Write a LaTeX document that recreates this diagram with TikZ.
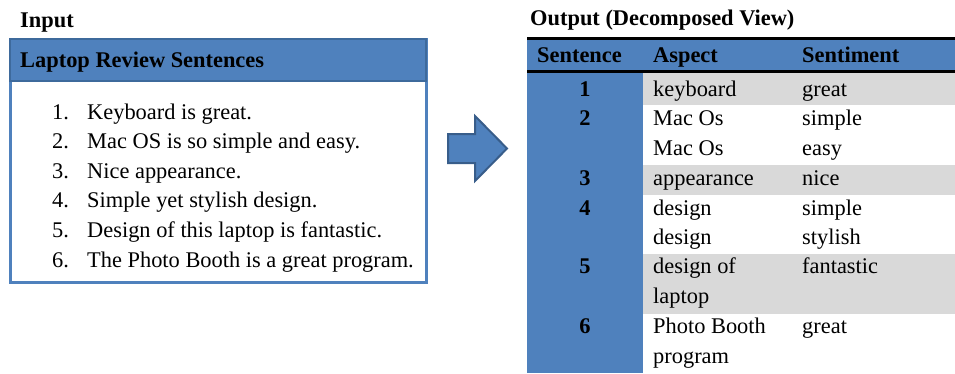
\documentclass[tikz,border=0pt]{standalone}
\usepackage{fontspec}
\setmainfont{Liberation Serif}
\usetikzlibrary{positioning}
\definecolor{hdrblue}{HTML}{4F81BD}
\definecolor{edgeblue}{HTML}{3E6A9C}
\definecolor{arrowedge}{HTML}{385D8A}
\definecolor{rowgray}{HTML}{D9D9D9}
\tikzset{
  txt/.style={anchor=base west, inner sep=0pt, font=\fontsize{22.4}{26}\selectfont},
  btxt/.style={txt, font=\fontsize{22.4}{26}\selectfont\bfseries},
  numtxt/.style={anchor=base, inner sep=0pt, font=\fontsize{22.4}{26}\selectfont\bfseries},
}

\begin{document}
\begin{tikzpicture}[x=1pt, y=-1pt]
    \useasboundingbox (0,0) rectangle (955,373);

    % 入力
    \node[btxt] (intitle) at (20,27) {Input};
    \node[draw=hdrblue, line width=3pt, fill=white, minimum width=416, minimum height=243, inner sep=0pt] (inbox) at (218,160.5) {};
    \node[draw=edgeblue, line width=2pt, fill=hdrblue, minimum width=416, minimum height=42, inner sep=0pt, anchor=north west] (inhead) at (inbox.north west) {};
    \node[btxt] (inheadtxt) at (20,67) {Laptop Review Sentences};
    \foreach \s [count=\i] in {Keyboard is great., Mac OS is so simple and easy., Nice appearance., Simple yet stylish design., Design of this laptop is fantastic., The Photo Booth is a great program.} {
        \node[txt] (num\i) at (52,{119+(\i-1)*29.6}) {\i.};
        \node[txt] (item\i) at (87,{119+(\i-1)*29.6}) {\s};
    }

    % 矢印
    \draw[draw=arrowedge, line width=2pt, fill=hdrblue]
        (448,134) -- (475,134) -- (475,116) -- (507,148.5) -- (475,181) -- (475,163) -- (448,163) -- cycle;

    % 出力
    \node[btxt] (outtitle) at (530,25) {Output (Decomposed View)};
    \fill[hdrblue] (527,39) rectangle (955,71);
    \fill[hdrblue] (527,71) rectangle (643,373);
    \fill[rowgray] (643,72.5) rectangle (955,105);
    \fill[rowgray] (643,165) rectangle (955,195);
    \fill[rowgray] (643,254) rectangle (955,314);
    \draw[line width=3pt] (527,38.5) -- (955,38.5);
    \draw[line width=3pt] (527,71) -- (955,71);

    \node[btxt] (hsent) at (537,62) {Sentence};
    \node[btxt] (hasp) at (653,62) {Aspect};
    \node[btxt] (hsenti) at (802,62) {Sentiment};

    \foreach \n/\y in {1/96, 2/125, 3/185, 4/215, 5/273, 6/333} {
        \node[numtxt] (no\n) at (585,\y) {\n};
    }
    \foreach \y/\a/\s [count=\i] in {96/keyboard/great, 125/Mac Os/simple, 155/Mac Os/easy, 185/appearance/nice, 215/design/simple, 244/design/stylish, 273/design of/fantastic, 303/laptop/{}, 333/Photo Booth/great, 363/program/{}} {
        \node[txt] (asp\i) at (653,\y) {\a};
        \node[txt] (senti\i) at (802,\y) {\s};
    }
\end{tikzpicture}
\end{document}
